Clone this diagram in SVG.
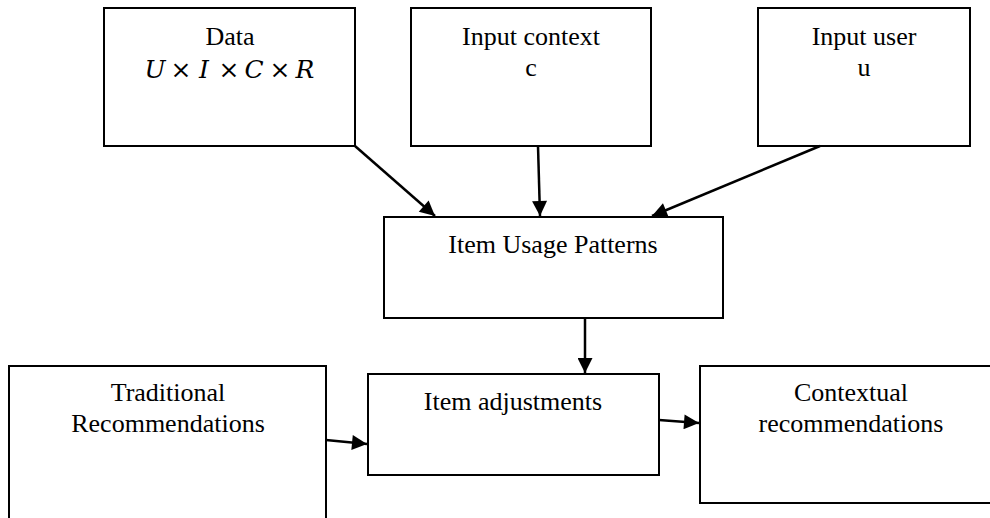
<svg xmlns="http://www.w3.org/2000/svg" width="990" height="518" viewBox="0 0 990 518">
  <style>
    .box { fill: #ffffff; stroke: #000000; stroke-width: 2; }
    .lbl { font-family: "Liberation Serif", "Times New Roman", serif; font-size: 26px; fill: #000000; text-anchor: middle; }
    .math { font-family: "DejaVu Serif", "Liberation Serif", serif; font-size: 25px; font-style: italic; fill: #000000; text-anchor: middle; }
    .op { font-style: normal; }
    .edge { fill: none; stroke: #000000; stroke-width: 2.5; marker-end: url(#arrow); }
  </style>
  <defs>
    <marker id="arrow" viewBox="0 0 10 10" refX="10" refY="5" markerWidth="7" markerHeight="6" markerUnits="strokeWidth" orient="auto">
      <path d="M0,0 L10,5 L0,10 Z" fill="#000000"/>
    </marker>
  </defs>
  <rect width="990" height="518" fill="#ffffff"/>

  <g id="data">
    <rect class="box" x="104" y="8" width="251" height="138"/>
    <text class="lbl" x="230" y="45">Data</text>
    <!-- each glyph of the product is centred on its own x -->
    <text class="math" x="155" y="78">U</text>
    <text class="math op" x="181" y="78">×</text>
    <text class="math" x="204" y="78">I</text>
    <text class="math op" x="229" y="78">×</text>
    <text class="math" x="254" y="78">C</text>
    <text class="math op" x="280" y="78">×</text>
    <text class="math" x="305" y="78">R</text>
  </g>

  <g id="input-context">
    <rect class="box" x="411" y="8" width="240" height="138"/>
    <text class="lbl" x="531" y="45">Input context</text>
    <text class="lbl" x="531" y="76">c</text>
  </g>

  <g id="input-user">
    <rect class="box" x="758" y="8" width="212" height="138"/>
    <text class="lbl" x="864" y="45">Input user</text>
    <text class="lbl" x="864" y="76">u</text>
  </g>

  <g id="item-usage-patterns">
    <rect class="box" x="384" y="217" width="339" height="101"/>
    <text class="lbl" x="553" y="253">Item Usage Patterns</text>
  </g>

  <g id="traditional">
    <rect class="box" x="9" y="366" width="317" height="170"/>
    <text class="lbl" x="168" y="401">Traditional</text>
    <text class="lbl" x="168" y="432">Recommendations</text>
  </g>

  <g id="item-adjustments">
    <rect class="box" x="368" y="374" width="291" height="101"/>
    <text class="lbl" x="513" y="410">Item adjustments</text>
  </g>

  <g id="contextual">
    <rect class="box" x="700" y="366" width="302" height="137"/>
    <text class="lbl" x="851" y="401">Contextual</text>
    <text class="lbl" x="851" y="432">recommendations</text>
  </g>

  <g id="connectors">
    <line class="edge" x1="355" y1="146" x2="435" y2="216"/>
    <line class="edge" x1="538" y1="146" x2="540" y2="216"/>
    <line class="edge" x1="820" y1="146" x2="652" y2="216"/>
    <line class="edge" x1="585" y1="318" x2="585" y2="373"/>
    <line class="edge" x1="326" y1="440" x2="367" y2="444"/>
    <line class="edge" x1="659" y1="420" x2="699" y2="423"/>
  </g>
</svg>
